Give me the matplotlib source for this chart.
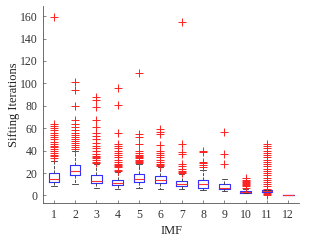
import matplotlib
matplotlib.use("Agg")
import matplotlib.pyplot as plt
import numpy as np

plt.rcParams['font.family'] = ['Liberation Serif', 'DejaVu Serif']

# box statistics (sifting iterations per IMF)
imf = list(range(1, 13))
q1 = [12, 18, 11, 9, 12, 11, 8, 7, 6, 2.5, 3, 0]
med = [15, 22, 13, 11, 15, 14, 10, 10, 7, 3, 4, 0]
q3 = [20, 27, 18, 14, 19, 17, 13, 14, 10, 4, 4.5, 0]
whislo = [8, 10, 7, 6, 7, 6, 6, 5, 4, 2, 2, 0]
whishi = [31, 40, 28, 21, 28, 25, 19, 23, 15, 6, 5, 0]
fliers = [
    [33, 35, 36, 38, 40, 41, 43, 44, 46, 48, 50, 52, 54, 56, 58, 60, 62, 64, 159],
    [41, 43, 45, 47, 49, 50, 52, 54, 56, 58, 61, 64, 67, 80, 94, 101],
    [29, 30, 32, 33, 34, 35, 37, 40, 42, 44, 47, 50, 53, 56, 61, 67, 79, 85, 88],
    [22, 23, 25, 26, 27, 28, 30, 32, 34, 36, 38, 40, 42, 44, 46, 56, 81, 96],
    [29, 30, 31, 32, 33, 34, 35, 36, 38, 40, 46, 52, 55, 109],
    [26, 27, 28, 30, 32, 34, 36, 38, 40, 45, 55, 57, 59],
    [20, 21, 22, 24, 26, 28, 37, 39, 46, 155],
    [25, 27, 29, 30, 39, 40],
    [28, 37, 57],
    [7, 8, 9, 10, 11, 12, 13, 14, 16],
    [0, 1, 2, 6, 8, 10, 12, 14, 16, 18, 20, 22, 24, 26, 28, 30, 32, 34, 36, 38, 40, 42, 44, 46],
    [],
]

stats = []
for i in range(len(imf)):
    stats.append({'q1': q1[i], 'med': med[i], 'q3': q3[i],
                  'whislo': whislo[i], 'whishi': whishi[i],
                  'fliers': fliers[i], 'label': str(imf[i])})

fig = plt.figure(figsize=(3.13, 2.42), dpi=100)
ax = fig.add_axes([0.138, 0.16, 0.817, 0.815])

ax.bxp(stats, positions=imf, widths=0.5, capwidths=0.25,
       boxprops=dict(color='#3030ff', linewidth=0.8),
       medianprops=dict(color='#ff3030', linewidth=0.8, zorder=3),
       whiskerprops=dict(color='#333333', linewidth=0.6, linestyle='--'),
       capprops=dict(color='#333333', linewidth=0.6),
       flierprops=dict(marker='+', markeredgecolor='#ff2020', markersize=6,
                       markeredgewidth=0.7, linestyle='none'))

ax.set_xlim(0.5, 12.5)
ax.set_ylim(-7, 169)
ax.set_yticks(np.arange(0, 161, 20))
ax.spines['top'].set_visible(False)
ax.spines['right'].set_visible(False)
for s in ['left', 'bottom']:
    ax.spines[s].set_color('#555555')
    ax.spines[s].set_linewidth(0.6)
ax.tick_params(direction='in', length=2, width=0.5, colors='#555555',
               labelsize=8.5, labelcolor='#333333', pad=4)
ax.set_xlabel('IMF', fontsize=9, color='#222222', labelpad=3)
ax.set_ylabel('Sifting Iterations', fontsize=9, color='#222222', labelpad=-0.5)

fig.savefig('out.png', dpi=100)
